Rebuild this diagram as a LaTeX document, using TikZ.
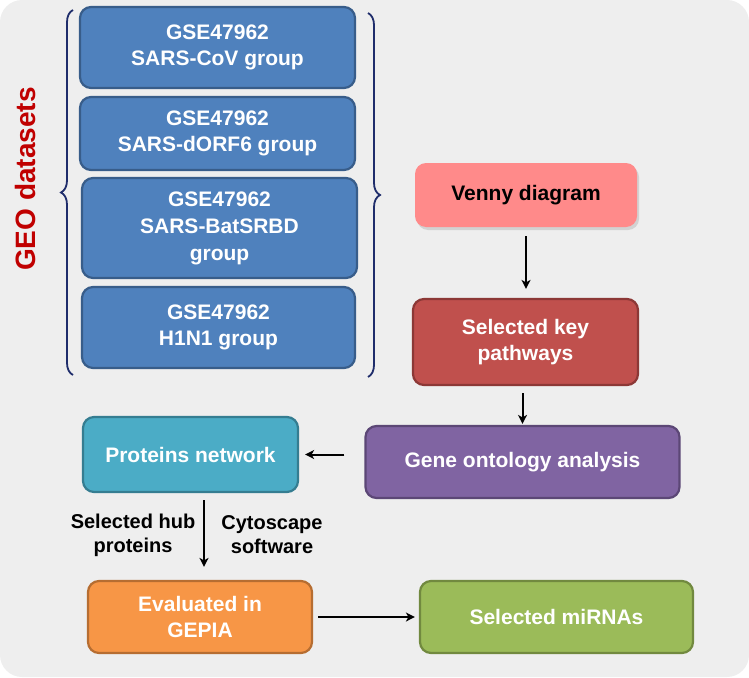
\documentclass[tikz,border=0pt]{standalone}
\usepackage{fontspec}
\setmainfont{Liberation Sans}
\usetikzlibrary{arrows.meta,decorations.pathreplacing,shadows,calc}
\definecolor{bgc}{HTML}{EEEEEE}
\definecolor{bluef}{HTML}{4F81BD}
\definecolor{blued}{HTML}{385D8A}
\definecolor{vennyf}{HTML}{FF8A8A}
\definecolor{redf}{HTML}{C0504D}
\definecolor{redd}{HTML}{8C3836}
\definecolor{purf}{HTML}{8064A2}
\definecolor{purd}{HTML}{5C4776}
\definecolor{aquaf}{HTML}{4BACC6}
\definecolor{aquad}{HTML}{357D91}
\definecolor{oraf}{HTML}{F79646}
\definecolor{orad}{HTML}{B66D31}
\definecolor{grnf}{HTML}{9BBB59}
\definecolor{grnd}{HTML}{71893F}
\definecolor{bracec}{HTML}{1F2D6B}
\definecolor{geored}{HTML}{C00000}
\tikzset{
  flowbox/.style={rounded corners=11pt, line width=2.2pt, text=white, align=center,
    inner sep=0pt, font=\fontsize{21}{26}\selectfont\bfseries},
  bluebox/.style={flowbox, draw=blued, fill=bluef, minimum width=275pt},
  arr/.style={line width=2pt, -{Stealth[length=9pt,width=9pt,inset=2.5pt]}},
  lbl/.style={align=center, font=\fontsize{20}{24}\selectfont\bfseries, text=black},
  bracestyle/.style={draw=bracec, line width=1.8pt, decorate,
    decoration={brace, amplitude=12pt, aspect=0.5}}
}
\begin{document}
\begin{tikzpicture}[x=1pt,y=-1pt]
\useasboundingbox (0,0) rectangle (749,677);
\fill[bgc, rounded corners=22pt] (0,0) rectangle (749,677);

% GEO dataset boxes
\node[bluebox, minimum height=81pt] (b1) at (217.5,47.5) {GSE47962\\SARS-CoV group};
\node[bluebox, minimum height=73pt] (b2) at (217.5,133.5) {GSE47962\\SARS-dORF6 group};
\node[bluebox, minimum height=100pt, font=\fontsize{21}{27}\selectfont\bfseries] (b3) at (219.5,228) {GSE47962\\SARS-BatSRBD\\group};
\node[bluebox, minimum height=81pt, minimum width=273pt] (b4) at (218.5,327.5) {GSE47962\\H1N1 group};

% braces
\coordinate (lb1) at (73,375);
\coordinate (lb2) at (73,10);
\coordinate (rb1) at (368,13);
\coordinate (rb2) at (368,377);
\draw[bracestyle] (lb1) -- (lb2);
\draw[bracestyle] (rb1) -- (rb2);

\node[rotate=90, text=geored, font=\fontsize{28}{32}\selectfont\bfseries] (geo) at (25,179) {GEO datasets};

% right column
\node[flowbox, fill=vennyf, text=black, minimum width=222pt, minimum height=64pt,
  drop shadow={opacity=0.25, shadow xshift=2pt, shadow yshift=-3pt}] (venny) at (526,195) {Venny diagram};
\node[flowbox, draw=redd, fill=redf, minimum width=225pt, minimum height=86pt] (key) at (525.5,342) {Selected key\\pathways};
\node[flowbox, draw=purd, fill=purf, minimum width=314pt, minimum height=72pt] (go) at (522.5,462) {Gene ontology analysis};

% lower part
\node[flowbox, draw=aquad, fill=aquaf, minimum width=215pt, minimum height=75pt] (pn) at (190.5,454.5) {Proteins network};
\node[flowbox, draw=orad, fill=oraf, minimum width=224pt, minimum height=72pt] (ev) at (200,617) {Evaluated in\\GEPIA};
\node[flowbox, draw=grnd, fill=grnf, minimum width=273pt, minimum height=72pt] (mi) at (556.5,617) {Selected miRNAs};

\node[lbl] (hub) at (133,535) {Selected hub\\proteins};
\node[lbl] (cyto) at (272,535) {Cytoscape\\software};

% arrows
\draw[arr, shorten <=8pt, shorten >=9pt] (venny.south) -- (venny.south |- key.north);
\draw[arr, shorten <=7pt, shorten >=1pt] (go.north |- key.south) -- (go.north);
\draw[arr, shorten <=20pt, shorten >=6pt] (go.west |- pn.east) -- (pn.east);
\draw[arr, shorten <=7pt, shorten >=13pt] ([xshift=13.5pt]pn.south) -- ([xshift=4pt]ev.north);
\draw[arr, shorten <=5pt, shorten >=4pt] (ev.east) -- (mi.west);
\end{tikzpicture}
\end{document}
